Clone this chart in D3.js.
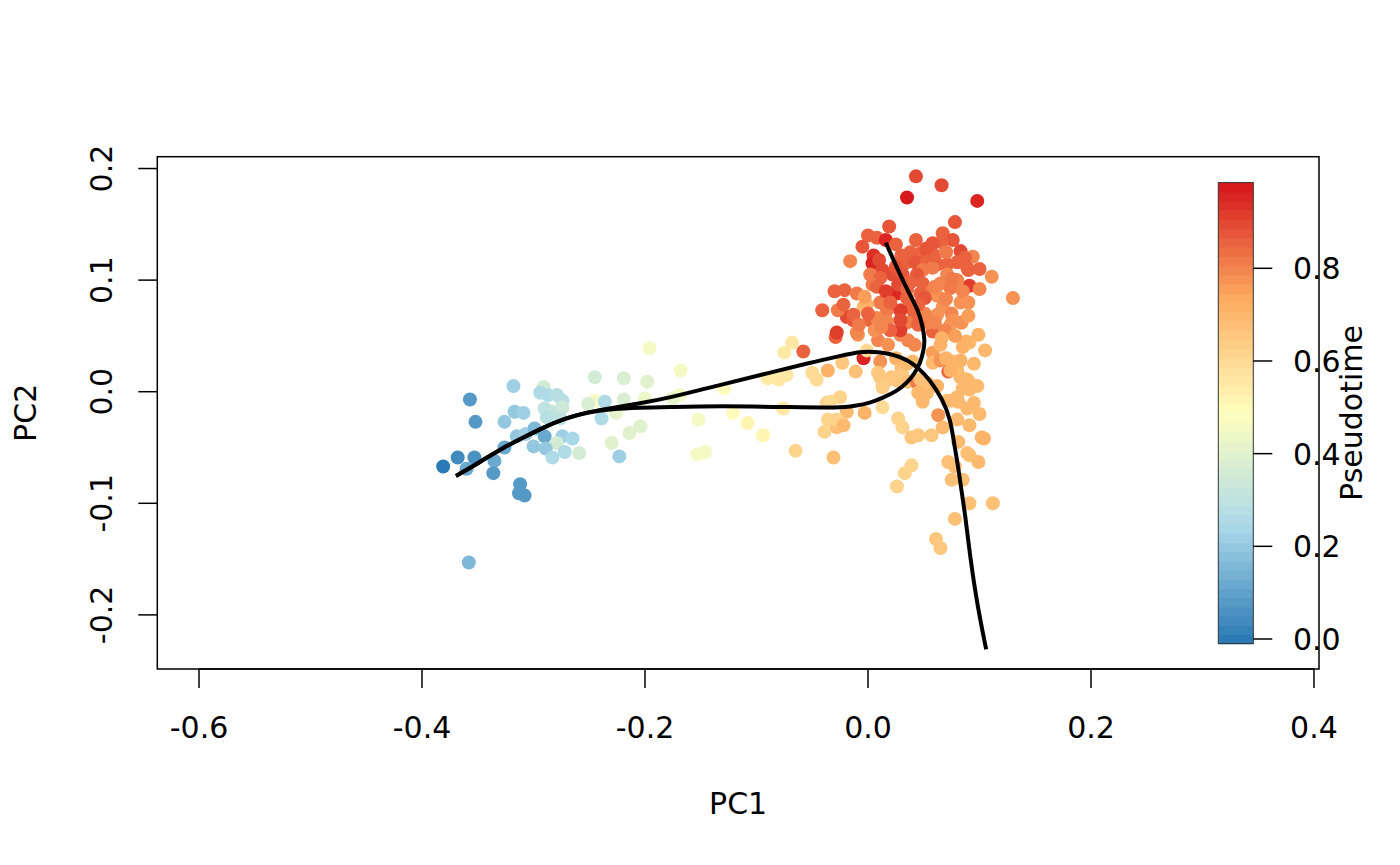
<!DOCTYPE html>
<html><head><meta charset="utf-8">
<script src="https://cdn.jsdelivr.net/npm/d3@7"></script>
<style>body{margin:0;background:#fff}svg{display:block}text{font-family:"DejaVu Sans",sans-serif;font-size:30px;fill:#000}</style>
</head><body>
<svg id="c" width="1400" height="865"></svg>
<script>
// ---- data ----
const pc1 = [
-0.196,-0.245,-0.219,-0.198,-0.318,-0.291,-0.357,-0.294,-0.287,-0.279,
-0.274,-0.245,-0.251,-0.236,-0.219,-0.200,-0.352,-0.317,-0.309,-0.326,
-0.290,-0.283,-0.274,-0.288,-0.276,-0.239,-0.226,-0.315,-0.307,-0.299,
-0.290,-0.274,-0.265,-0.279,-0.300,-0.326,-0.289,-0.272,-0.283,-0.259,
-0.230,-0.214,-0.204,-0.223,-0.381,-0.368,-0.353,-0.360,-0.335,-0.336,
-0.312,-0.313,-0.308,-0.358,-0.168,-0.169,-0.175,-0.152,-0.153,-0.146,
-0.129,-0.121,-0.108,-0.094,-0.076,-0.090,-0.080,-0.073,-0.075,-0.068,
-0.058,-0.050,-0.046,-0.036,-0.029,-0.065,-0.031,-0.037,-0.036,-0.039,
-0.028,-0.025,-0.019,-0.028,-0.022,-0.034,-0.003,0.013,0.027,0.031,
0.039,0.045,0.057,0.063,0.067,0.091,0.102,0.104,0.081,0.089,
0.091,0.099,0.072,0.078,0.075,0.085,0.039,0.033,0.026,0.091,
0.112,0.078,0.061,0.065,-0.009,-0.004,0.009,0.018,0.029,0.036,
-0.001,0.011,-0.023,-0.011,0.009,0.011,0.017,0.026,0.030,0.031,
0.036,0.044,0.040,0.058,0.058,0.065,0.076,0.085,0.091,0.105,
0.072,0.080,0.083,0.089,0.091,0.085,0.091,0.080,0.071,0.075,
0.081,0.089,0.045,0.049,0.053,0.021,0.047,0.053,0.013,0.065,
0.074,0.083,0.088,0.099,0.074,0.083,0.058,0.042,0.035,0.029,
0.026,-0.010,-0.028,0.002,-0.004,-0.019,-0.013,-0.027,-0.041,-0.021,
-0.016,0.005,0.004,0.000,0.008,0.016,0.019,0.067,0.076,0.066,
0.078,0.083,0.094,0.111,0.090,0.091,0.043,0.066,0.035,0.098,
0.130,0.030,0.038,0.047,0.033,0.042,0.053,0.062,0.071,0.080,
0.049,0.058,0.089,0.013,0.022,0.031,0.002,0.011,0.004,0.044,
0.038,0.071,0.080,0.065,0.074,0.049,0.056,0.047,-0.010,0.022,
0.027,0.008,-0.001,-0.003,0.011,0.017,0.035,0.038,0.062,0.067,
0.062,0.075,0.083,-0.013,-0.022,0.029,0.029,0.008,0.017,0.051,
0.054,0.084,0.076,0.045,0.069,0.020,0.006,0.042,0.051,
0.010,0.025,0.060,0.070,0.087,0.052,0.016,0.035,0.060,0.085,
0.090,0.070,0.045,0.020,0.000,-0.008,0.012,0.060,0.090,0.078,
0.066,0.025,0.035,0.070,0.095,0.098,0.062,0.100,0.080,0.095,
-0.030,-0.005,0.025,0.043,0.058,0.100,0.075,0.100];
const pc2 = [
0.039,0.013,0.012,0.009,0.005,0.004,-0.007,-0.001,-0.003,-0.003,
-0.008,-0.008,-0.011,-0.009,-0.007,-0.006,-0.027,-0.018,-0.019,-0.027,
-0.015,-0.018,-0.014,-0.023,-0.024,-0.024,-0.019,-0.040,-0.038,-0.033,
-0.040,-0.040,-0.042,-0.046,-0.049,-0.050,-0.051,-0.054,-0.059,-0.055,
-0.046,-0.037,-0.031,-0.058,-0.067,-0.059,-0.059,-0.069,-0.062,-0.073,
-0.083,-0.091,-0.093,-0.153,0.019,-0.003,-0.006,-0.025,-0.056,-0.054,
0.003,-0.019,-0.028,-0.039,-0.015,0.012,0.011,0.015,0.035,0.044,
0.036,0.017,0.011,0.019,0.049,-0.053,-0.059,-0.010,-0.025,-0.036,
-0.032,-0.005,-0.018,-0.025,-0.030,-0.009,-0.019,-0.014,-0.024,-0.032,
-0.041,-0.039,-0.039,-0.021,-0.032,-0.030,-0.041,-0.042,-0.045,-0.055,
-0.057,-0.063,-0.063,-0.067,-0.079,-0.079,-0.066,-0.073,-0.085,-0.100,
-0.100,-0.114,-0.132,-0.140,0.051,0.030,0.046,0.042,0.051,0.046,
0.037,0.027,0.026,0.018,0.017,0.013,0.010,0.010,0.021,0.015,
0.009,0.008,0.027,0.035,0.026,0.042,0.027,0.040,0.044,0.037,
0.018,0.019,0.013,0.011,0.008,0.003,0.002,-0.005,-0.008,-0.008,
-0.009,-0.015,-0.001,-0.009,-0.001,0.013,0.011,0.008,0.004,0.028,
0.019,0.028,0.045,0.051,0.060,0.062,0.054,0.070,0.062,0.055,
0.088,0.053,0.053,0.064,0.076,0.067,0.064,0.073,0.073,0.091,
0.117,0.122,0.115,0.140,0.138,0.136,0.148,0.142,0.136,0.134,
0.152,0.126,0.121,0.103,0.109,0.095,0.193,0.185,0.174,0.171,
0.084,0.122,0.125,0.124,0.115,0.116,0.116,0.114,0.114,0.116,
0.109,0.111,0.111,0.109,0.105,0.105,0.105,0.102,0.096,0.105,
0.098,0.105,0.100,0.097,0.093,0.097,0.089,0.088,0.088,0.088,
0.096,0.094,0.078,0.085,0.080,0.073,0.084,0.075,0.086,0.076,
0.069,0.070,0.080,0.069,0.078,0.073,0.064,0.066,0.063,0.070,
0.062,0.062,0.064,0.060,0.055,0.055,0.055,0.042,0.084,
0.118,0.112,0.122,0.125,0.120,0.128,0.090,0.092,0.094,0.090,
0.080,0.083,0.078,0.080,0.070,0.060,0.058,0.062,0.068,0.050,
0.048,0.030,0.025,0.030,0.025,0.005,0.005,-0.020,-0.025,-0.010,
0.090,0.130,0.132,0.136,0.133,0.110,0.101,0.092];
const pseudotime = [
0.45,0.35,0.38,0.40,0.22,0.35,0.08,0.25,0.26,0.28,
0.27,0.45,0.38,0.25,0.38,0.43,0.08,0.20,0.22,0.20,
0.30,0.32,0.33,0.27,0.30,0.25,0.42,0.20,0.22,0.15,
0.12,0.22,0.23,0.35,0.20,0.12,0.20,0.25,0.25,0.35,
0.40,0.40,0.40,0.22,0.00,0.03,0.05,0.12,0.12,0.07,
0.08,0.07,0.07,0.15,0.45,0.45,0.42,0.45,0.45,0.46,
0.50,0.50,0.52,0.52,0.55,0.55,0.55,0.56,0.56,0.56,
0.85,0.60,0.60,0.72,0.85,0.62,0.68,0.62,0.62,0.62,
0.68,0.62,0.70,0.62,0.70,0.60,0.72,0.60,0.62,0.62,
0.65,0.65,0.65,0.78,0.70,0.70,0.72,0.72,0.70,0.68,
0.68,0.70,0.68,0.68,0.68,0.68,0.62,0.62,0.62,0.68,
0.68,0.68,0.65,0.65,0.78,0.95,0.80,0.78,0.80,0.80,
0.60,0.78,0.65,0.68,0.65,0.65,0.65,0.65,0.68,0.65,
0.68,0.82,0.70,0.75,0.70,0.72,0.70,0.72,0.70,0.70,
0.85,0.70,0.70,0.70,0.70,0.70,0.70,0.70,0.70,0.70,
0.70,0.70,0.70,0.70,0.70,0.65,0.68,0.68,0.63,0.78,
0.72,0.72,0.72,0.72,0.75,0.75,0.85,0.85,0.82,0.92,
0.93,0.80,0.92,0.85,0.70,0.90,0.88,0.82,0.85,0.85,
0.80,0.93,0.95,0.85,0.85,0.95,0.88,0.85,0.87,0.85,
0.87,0.90,0.80,0.78,0.85,0.92,0.90,0.90,0.97,0.95,
0.78,0.85,0.85,0.85,0.85,0.88,0.85,0.85,0.85,0.85,
0.82,0.82,0.85,0.90,0.90,0.88,0.82,0.85,0.82,0.88,
0.85,0.80,0.80,0.80,0.82,0.85,0.82,0.85,0.82,0.95,
0.90,0.85,0.72,0.75,0.82,0.82,0.85,0.85,0.78,0.78,
0.78,0.80,0.78,0.85,0.85,0.92,0.90,0.80,0.80,0.80,
0.80,0.78,0.78,0.85,0.80,0.85,0.78,0.80,0.88,
0.90,0.88,0.85,0.82,0.85,0.88,0.92,0.85,0.80,0.80,
0.78,0.80,0.85,0.85,0.85,0.82,0.80,0.80,0.75,0.75,
0.72,0.72,0.70,0.72,0.70,0.70,0.72,0.70,0.70,0.70,
0.85,0.88,0.85,0.85,0.88,0.85,0.82,0.80];

// principal curves (lineage 1 ends top, lineage 2 ends bottom right)
const curve1PC1 = [-0.3695,-0.348,-0.327,-0.309,-0.291,-0.272,-0.252,-0.230,-0.205,-0.178,-0.133,-0.073,-0.025,-0.012,0.002,0.013,0.026,0.035,0.042,0.047,0.050,0.051,0.049,0.045,0.038,0.029,0.022,0.016];
const curve1PC2 = [-0.0755,-0.063,-0.050,-0.041,-0.032,-0.024,-0.0185,-0.0155,-0.0142,-0.0137,-0.0128,-0.0137,-0.0146,-0.0128,-0.010,-0.0056,0.0006,0.0078,0.0167,0.0257,0.0374,0.0463,0.0588,0.0732,0.0857,0.1045,0.120,0.1335];
const curve2PC1 = [-0.3695,-0.348,-0.327,-0.309,-0.291,-0.272,-0.252,-0.230,-0.205,-0.178,-0.133,-0.088,-0.052,-0.025,-0.007,0.008,0.029,0.044,0.056,0.067,0.074,0.077,0.081,0.084,0.087,0.092,0.098,0.106];
const curve2PC2 = [-0.0755,-0.063,-0.050,-0.041,-0.032,-0.024,-0.0185,-0.0145,-0.0105,-0.0055,0.006,0.017,0.026,0.032,0.036,0.036,0.032,0.023,0.010,-0.007,-0.025,-0.045,-0.068,-0.090,-0.109,-0.151,-0.191,-0.231];

const xTicks = [-0.6,-0.4,-0.2,0.0,0.2,0.4];
const yTicks = [-0.2,-0.1,0.0,0.1,0.2];
const legendTicks = [0.0,0.2,0.4,0.6,0.8];
const paletteColors = ["#2c7bb6","#abd9e9","#ffffbf","#fdae61","#d7191c"];
const nBins = 50;
const ptMax = 0.975;

// ---- layout ----
const svg = d3.select("#c");
const L = 157.3, R = 1319, T = 156.7, B = 669;
const x = d3.scaleLinear().domain([-0.6374, 0.4045]).range([L, R]);
const y = d3.scaleLinear().domain([-0.2485, 0.2106]).range([B, T]);

const ramp = d3.scaleLinear().domain(d3.range(paletteColors.length).map(i => i / (paletteColors.length - 1))).range(paletteColors);
const binColor = i => ramp(i / (nBins - 1));
const ptColor = t => binColor(Math.max(0, Math.min(nBins - 1, Math.round(t / ptMax * (nBins - 1)))));

// points
const pts = pc1.map((v, i) => ({x: v, y: pc2[i], t: pseudotime[i]}));
svg.append("g").selectAll("circle").data(pts).join("circle")
  .attr("cx", d => x(d.x)).attr("cy", d => y(d.y)).attr("r", 7)
  .attr("fill", d => ptColor(d.t));

// curves
const line = d3.line().x(d => x(d[0])).y(d => y(d[1])).curve(d3.curveBasis);
[[curve1PC1, curve1PC2], [curve2PC1, curve2PC2]].forEach(([cx, cy]) => {
  svg.append("path").attr("d", line(cx.map((v, i) => [v, cy[i]])))
    .attr("fill", "none").attr("stroke", "#000").attr("stroke-width", 4)
    .attr("stroke-linecap", "butt").attr("stroke-linejoin", "round");
});

// axes
const tickLen = 19;
const gx = svg.append("g");
gx.selectAll("line").data(xTicks).join("line")
  .attr("x1", d => x(d)).attr("x2", d => x(d)).attr("y1", B).attr("y2", B + tickLen)
  .attr("stroke", "#000").attr("stroke-width", 1.5);
gx.append("line").attr("x1", x(xTicks[0])).attr("x2", x(xTicks[xTicks.length-1])).attr("y1", B).attr("y2", B).attr("stroke", "#000").attr("stroke-width", 1.5);
gx.selectAll("text").data(xTicks).join("text")
  .attr("x", d => x(d)).attr("y", 738).attr("text-anchor", "middle")
  .text(d => d3.format(".1f")(d).replace("−", "-"));

const gy = svg.append("g");
gy.selectAll("line").data(yTicks).join("line")
  .attr("x1", L - tickLen).attr("x2", L).attr("y1", d => y(d)).attr("y2", d => y(d))
  .attr("stroke", "#000").attr("stroke-width", 1.5);
gy.selectAll("text").data(yTicks).join("text")
  .attr("transform", d => `translate(112,${y(d)}) rotate(-90)`).attr("text-anchor", "middle")
  .text(d => d3.format(".1f")(d).replace("−", "-"));

svg.append("text").attr("x", (L + R) / 2).attr("y", 814).attr("text-anchor", "middle").text("PC1");
svg.append("text").attr("transform", `translate(36,${(T + B) / 2}) rotate(-90)`).attr("text-anchor", "middle").text("PC2");

// color legend
const ly = d3.scaleLinear().domain([0, 0.8]).range([639, 268.3]);
const binStep = ptMax / (nBins - 1);
const lx0 = 1218.3, lx1 = 1253.3;
const bins = d3.range(nBins);
svg.append("g").selectAll("rect").data(bins).join("rect")
  .attr("x", lx0).attr("width", lx1 - lx0)
  .attr("y", i => ly(i * binStep + binStep / 2))
  .attr("height", i => ly(i * binStep - binStep / 2) - ly(i * binStep + binStep / 2) + 0.6)
  .attr("fill", i => binColor(i));
svg.append("rect").attr("x", lx0).attr("width", lx1 - lx0)
  .attr("y", ly(ptMax + binStep / 2)).attr("height", ly(-binStep / 2) - ly(ptMax + binStep / 2))
  .attr("fill", "none").attr("stroke", "#333").attr("stroke-width", 1);
const gl = svg.append("g");
gl.selectAll("line").data(legendTicks).join("line")
  .attr("x1", lx1).attr("x2", lx1 + tickLen).attr("y1", d => ly(d)).attr("y2", d => ly(d))
  .attr("stroke", "#000").attr("stroke-width", 1.5);
gl.selectAll("text").data(legendTicks).join("text")
  .attr("x", 1293).attr("y", d => ly(d) + 11)
  .text(d => d3.format(".1f")(d));
svg.append("text").attr("transform", `translate(1362,413) rotate(-90)`).attr("text-anchor", "middle").text("Pseudotime");

// frame
svg.append("rect").attr("x", L).attr("y", T).attr("width", R - L).attr("height", B - T)
  .attr("fill", "none").attr("stroke", "#000").attr("stroke-width", 1.5);
</script>
</body></html>
